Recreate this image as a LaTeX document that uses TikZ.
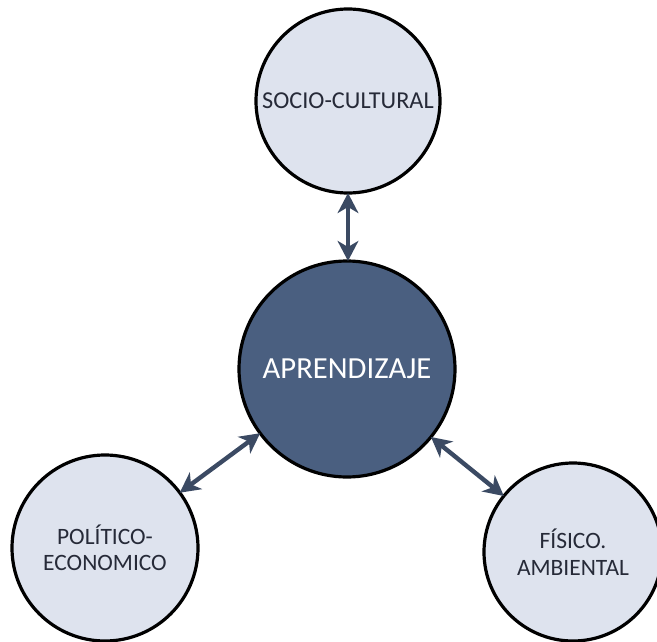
\documentclass[tikz,border=0pt]{standalone}
\usepackage{fontspec}
\setmainfont{Carlito}
\usetikzlibrary{arrows.meta}
\definecolor{lightfill}{RGB}{222,227,238}
\definecolor{darkfill}{RGB}{74,95,128}
\definecolor{arrowcol}{RGB}{59,74,99}
\definecolor{labelcol}{RGB}{38,42,56}
\tikzset{
  outercircle/.style={circle, draw=black, line width=2.4pt, fill=lightfill, inner sep=0pt, outer sep=0pt,
    text=labelcol, align=center, font=\fontsize{17.6}{19.8}\selectfont},
  centercircle/.style={circle, draw=black, line width=2.4pt, fill=darkfill, inner sep=0pt, outer sep=0pt,
    text=white, align=center, font=\fontsize{23}{27}\selectfont},
  conn/.style={arrowcol, line width=3.3pt, {Stealth[length=15pt,width=15.5pt,inset=4.5pt]}-{Stealth[length=15pt,width=15.5pt,inset=4.5pt]}}
}
\begin{document}
\begin{tikzpicture}[x=0.75pt,y=-0.75pt]
\useasboundingbox (0,0) rectangle (657,642);
\node[outercircle, minimum size=138pt, font=\fontsize{18.2}{21}\selectfont] (top) at (348,101) {SOCIO-CULTURAL};
\node[centercircle, minimum size=162pt] (cen) at (347,369) {APRENDIZAJE};
\node[outercircle, minimum size=139.5pt] (bl) at (105,548) {POLÍTICO-\\ECONOMICO};
\node[outercircle, minimum size=133.5pt] (br) at (573,552) {FÍSICO.\\AMBIENTAL};
\draw[conn] (top.south) -- (top.south |- cen.north);
\draw[conn] (bl) -- (cen);
\draw[conn] (br) -- (cen);
\end{tikzpicture}
\end{document}
